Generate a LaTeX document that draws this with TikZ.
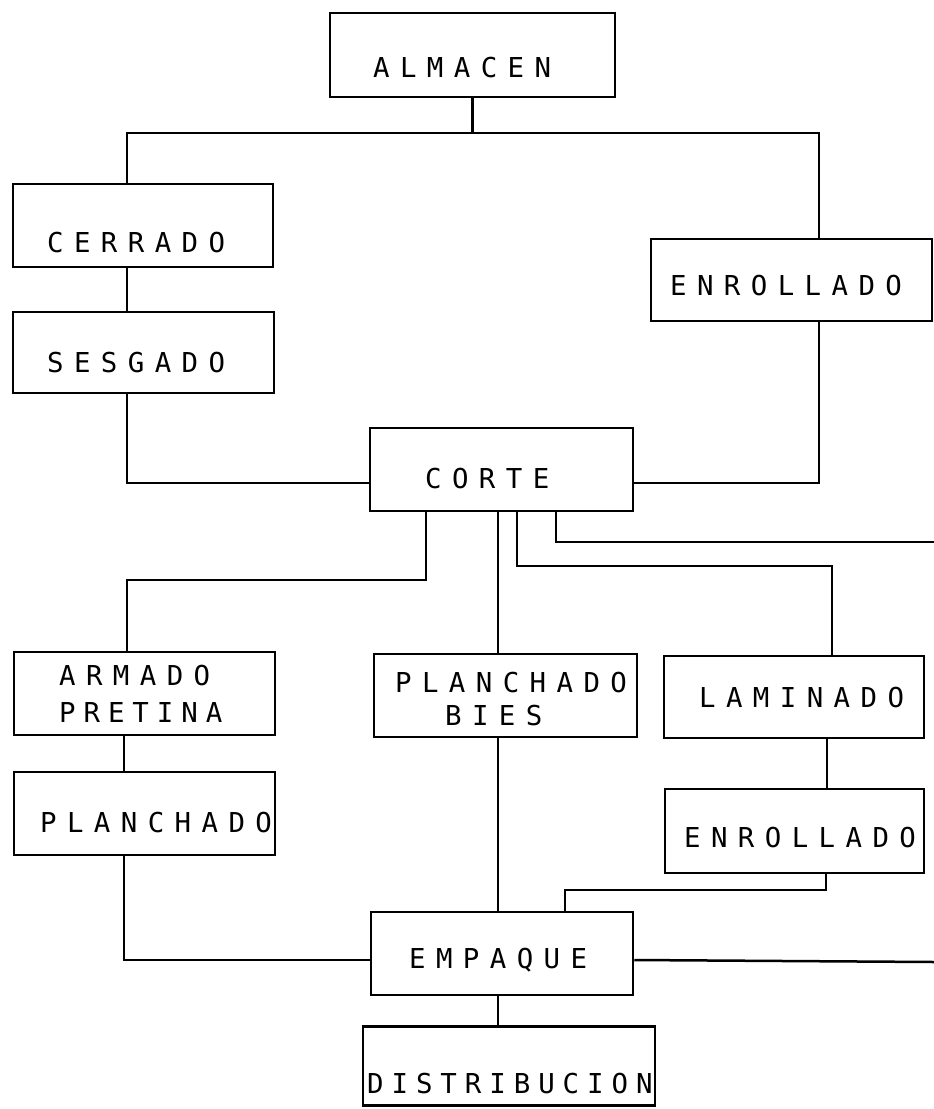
\documentclass[tikz,border=0pt]{standalone}
\usepackage{fontspec}
\newfontfamily\dotfont[LetterSpace=38]{DejaVu Sans Mono}
\newfontfamily\dotfontn[LetterSpace=29]{DejaVu Sans Mono}
\begin{document}
\begin{tikzpicture}[x=1pt,y=-1pt,
  box/.style={draw=black,line width=2.5pt,rectangle,inner sep=0pt},
  lbl/.style={anchor=base west,inner sep=0pt,font=\dotfont\fontsize{27.4}{30}\selectfont},
  lbln/.style={anchor=base west,inner sep=0pt,font=\dotfontn\fontsize{27.4}{30}\selectfont},
  conn/.style={draw=black,line width=2.5pt}]
\useasboundingbox[fill=white] (0,0) rectangle (934,1109);

% boxes
\node[box,minimum width=285pt,minimum height=84pt] (almacen) at (472.5,55) {};
\node[box,minimum width=260pt,minimum height=83pt] (cerrado) at (143,225.5) {};
\node[box,minimum width=261pt,minimum height=81pt] (sesgado) at (143.5,352.5) {};
\node[box,minimum width=281pt,minimum height=82pt] (enr1) at (791.5,280) {};
\node[box,minimum width=263pt,minimum height=83pt] (corte) at (501.5,469.5) {};
\node[box,minimum width=261pt,minimum height=83pt] (armado) at (144.5,693.5) {};
\node[box,minimum width=261pt,minimum height=83pt] (planch) at (144.5,813.5) {};
\node[box,minimum width=263pt,minimum height=83pt] (bies) at (505.5,695.5) {};
\node[box,minimum width=260pt,minimum height=82pt] (lamin) at (794,697) {};
\node[box,minimum width=259pt,minimum height=84pt] (enr2) at (794.5,831) {};
\node[box,minimum width=262pt,minimum height=83pt] (empaque) at (502,953.5) {};
\node[box,minimum width=292pt,minimum height=79pt] (distrib) at (509,1066) {};

% labels
\node[lbl] (t-almacen) at (373,77) {ALMACEN};
\node[lbl] (t-cerrado) at (47,252) {CERRADO};
\node[lbl] (t-sesgado) at (47,372) {SESGADO};
\node[lbl] (t-enr1) at (670,295) {ENROLLADO};
\node[lbl] (t-corte) at (425,488) {CORTE};
\node[lbl] (t-armado) at (59,685) {ARMADO};
\node[lbln] (t-pretina) at (59,722) {PRETINA};
\node[lbl] (t-planch) at (40,832) {PLANCHADO};
\node[lbl] (t-bies1) at (395,692) {PLANCHADO};
\node[lbl] (t-bies2) at (445,725) {BIES};
\node[lbl] (t-lamin) at (699,707) {LAMINADO};
\node[lbl] (t-enr2) at (684,847) {ENROLLADO};
\node[lbl] (t-empaque) at (409,968) {EMPAQUE};
\node[lbln] (t-distrib) at (367,1093) {DISTRIBUCION};

% junction coordinates
\coordinate (tl) at (127,133);
\coordinate (tr) at (819,133);
\coordinate (cl) at (127,483);
\coordinate (cr) at (819,483);
\coordinate (a1) at (426,580);
\coordinate (a2) at (127,580);
\coordinate (pl) at (124,960);
\coordinate (mx) at (498,600);
\coordinate (l1) at (517,566);
\coordinate (l2) at (832,566);
\coordinate (r1) at (556,542);
\coordinate (r2) at (934,542);
\coordinate (lx) at (827,760);
\coordinate (e1) at (826,890);
\coordinate (e2) at (565,890);
\coordinate (er) at (934,962);

% connectors
\draw[conn] (almacen.south) -- (almacen.south |- tl);
\draw[conn] (cerrado.north -| tl) -- (tl) -- (tr) -- (enr1.north -| tr);
\draw[conn] (cerrado.south -| tl) -- (sesgado.north -| tl);
\draw[conn] (sesgado.south -| cl) -- (cl) -- (cl -| corte.west);
\draw[conn] (enr1.south -| cr) -- (cr) -- (cr -| corte.east);
\draw[conn] (corte.south -| a1) -- (a1) -- (a2) -- (armado.north -| a2);
\draw[conn] (armado.south -| pl) -- (planch.north -| pl);
\draw[conn] (planch.south -| pl) -- (pl) -- (pl -| empaque.west);
\draw[conn] (corte.south -| mx) -- (bies.north -| mx);
\draw[conn] (bies.south -| mx) -- (empaque.north -| mx);
\draw[conn] (empaque.south -| mx) -- (distrib.north -| mx);
\draw[conn] (corte.south -| l1) -- (l1) -- (l2) -- (lamin.north -| l2);
\draw[conn] (corte.south -| r1) -- (r1) -- (r2);
\draw[conn] (lamin.south -| lx) -- (enr2.north -| lx);
\draw[conn] (enr2.south -| e1) -- (e1) -- (e2) -- (empaque.north -| e2);
\draw[conn] (empaque.east |- pl) -- (er);
\end{tikzpicture}
\end{document}
